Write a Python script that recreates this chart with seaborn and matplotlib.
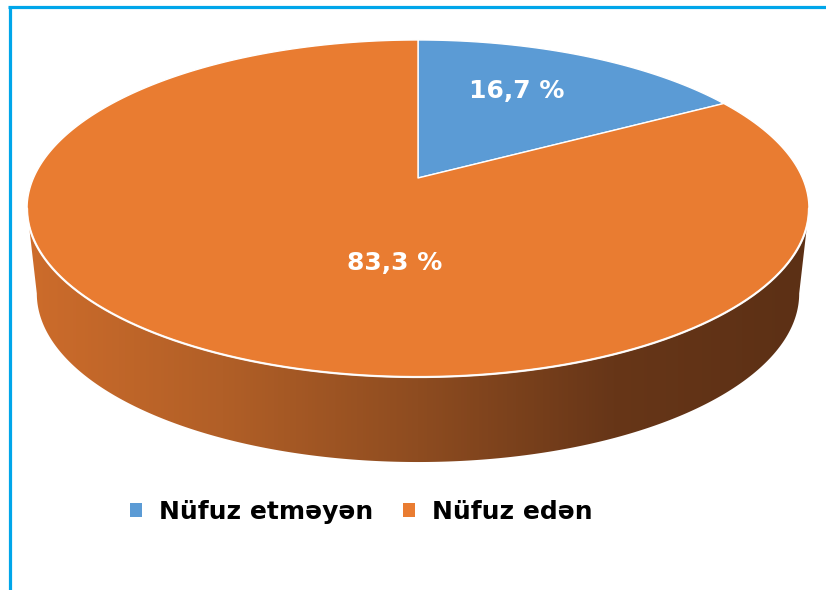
import numpy as np
import matplotlib
matplotlib.use("Agg")
import matplotlib.pyplot as plt
import seaborn as sns
from matplotlib.patches import Polygon, Patch
from matplotlib.colors import LinearSegmentedColormap

# ---- data ----
categories = ["Nüfuz etməyən", "Nüfuz edən"]
values = [16.7, 83.3]
value_labels = ["16,7 %", "83,3 %"]
colors = ["#5B9BD5", "#E97C31"]

sns.set_theme(style="white")
plt.rcParams['font.family'] = ['DejaVu Sans']

W, H = 826, 590
fig = plt.figure(figsize=(W / 100, H / 100), dpi=100)
ax = fig.add_axes([0, 0, 1, 1])
ax.set_xlim(0, W)
ax.set_ylim(H, 0)
ax.axis("off")

# ---- pie geometry (layout, simple perspective projection) ----
cx, cy = 418, 178        # projected disc centre (wedge apex)
A, B = 384.5, 163        # projection scales
k = 0.181                # perspective strength
depth = 85
shrink_bot = 0.975

def proj(theta, scale=1.0, dy=0.0):
    u, v = np.cos(theta), np.sin(theta)
    d = 1 + k * v
    return cx + scale * A * u / d, cy + dy - B * v / d

# ---- side (front) with gradient ----
t0 = np.pi + np.arcsin(k)
t1 = 2 * np.pi - np.arcsin(k)
tf = np.linspace(t0, t1, 400)
xt, yt = proj(tf)
xb, yb = proj(tf[::-1], shrink_bot, depth)
side_pts = np.column_stack([np.r_[xt, xb], np.r_[yt, yb]])
side = Polygon(side_pts, closed=True, facecolor="none", edgecolor="none")
ax.add_patch(side)
cmap = LinearSegmentedColormap.from_list(
    "side", [(0.0, "#CD6C2B"), (0.25, "#B15F27"), (0.5, "#8E4C20"),
             (0.75, "#673618"), (1.0, "#5C3015")])
grad = np.linspace(0, 1, 512).reshape(1, -1)
im = ax.imshow(grad, cmap=cmap, extent=[xt.min(), xt.max(), yb.max() + 2, yt.min() - 2],
               aspect="auto", zorder=1)
im.set_clip_path(side)
ax.set_xlim(0, W)
ax.set_ylim(H, 0)

# ---- top wedges from values ----
start = np.pi / 2
total = sum(values)
for v, c in zip(values, colors):
    sweep = 2 * np.pi * v / total
    t = np.linspace(start, start - sweep, 500)
    xs, ys = proj(t)
    pts = np.column_stack([np.r_[cx, xs], np.r_[cy, ys]])
    ax.add_patch(Polygon(pts, closed=True, facecolor=c, edgecolor="white",
                         linewidth=1.0, joinstyle="round", zorder=2))
    start -= sweep

# white rim along front edge
ax.plot(xt, yt, color="white", lw=1.6, alpha=0.9, zorder=3, solid_capstyle="round")

# ---- value labels ----
label_pos = [(517, 91), (395, 263)]
for (x, y), s in zip(label_pos, value_labels):
    ax.text(x, y, s, color="white", fontsize=18, fontweight="bold",
            ha="center", va="center", zorder=4)

# ---- legend ----
handles = [Patch(facecolor=c, edgecolor="none", label=l) for c, l in zip(colors, categories)]
leg = ax.legend(handles=handles, ncol=2, frameon=False, loc="center",
                bbox_to_anchor=(361, 512), bbox_transform=ax.transData,
                prop={"size": 18, "weight": "bold"},
                handlelength=0.5, handleheight=0.5, handletextpad=0.65,
                columnspacing=1.2, borderpad=0, borderaxespad=0)
for t in leg.get_texts():
    t.set_color("black")

# ---- frame lines ----
ax.plot([8, W], [6.5, 6.5], color="#00A6EA", lw=2.3, solid_capstyle="butt", zorder=5)
ax.plot([9.5, 9.5], [6.5, H], color="#00A6EA", lw=2.3, solid_capstyle="butt", zorder=5)

fig.savefig("out.png", dpi=100, facecolor="white")
